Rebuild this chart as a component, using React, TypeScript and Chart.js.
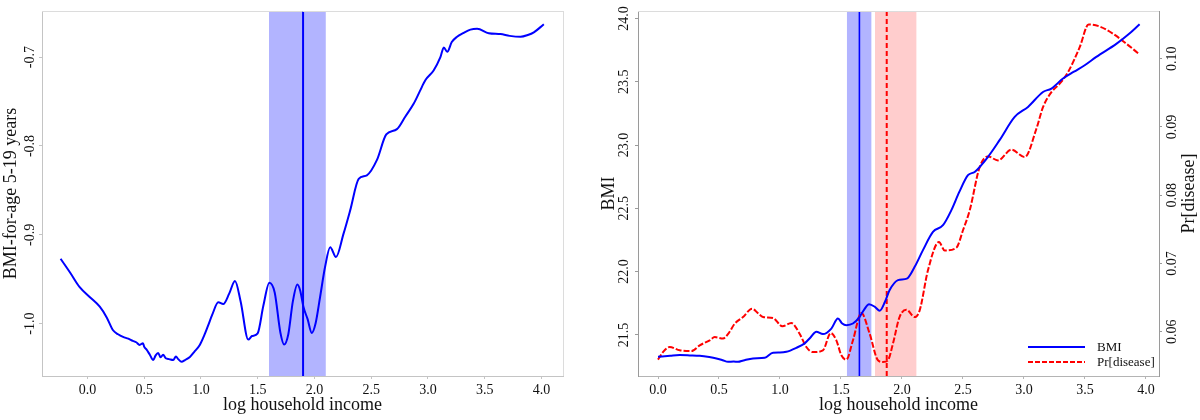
import React, { useEffect, useRef } from 'react';
import { Chart, registerables } from 'chart.js';

Chart.register(...registerables);

const FONT = '"Liberation Serif", "DejaVu Serif", serif';

// ---------- Left panel data ----------
const leftIncome = [
  -0.236, -0.15, -0.068, 0.02, 0.109, 0.17, 0.226, 0.27, 0.314, 0.36, 0.4, 0.43, 0.46, 0.49, 0.5, 0.52,
  0.55, 0.58, 0.6, 0.623, 0.645, 0.667, 0.69, 0.72, 0.756, 0.78, 0.8, 0.83, 0.86, 0.903, 0.94, 0.99,
  1.03, 1.064, 1.1, 1.153, 1.197, 1.25, 1.3, 1.35, 1.417, 1.45, 1.5, 1.55, 1.603, 1.65, 1.7, 1.733,
  1.77, 1.81, 1.85, 1.874, 1.903, 1.94, 1.977, 2.01, 2.05, 2.094, 2.139, 2.19, 2.256, 2.315, 2.39,
  2.462, 2.55, 2.633, 2.727, 2.8, 2.874, 2.93, 2.977, 3.05, 3.11, 3.14, 3.17, 3.21, 3.257, 3.31,
  3.374, 3.433, 3.536, 3.639, 3.72, 3.816, 3.88, 3.933, 4.021,
];
const leftBmiForAge = [
  -0.927, -0.943, -0.959, -0.97, -0.981, -0.993, -1.0075, -1.012, -1.015, -1.017, -1.0195, -1.021,
  -1.024, -1.022, -1.026, -1.029, -1.035, -1.041, -1.036, -1.033, -1.038, -1.035, -1.039, -1.04,
  -1.041, -1.037, -1.04, -1.043, -1.041, -1.0375, -1.032, -1.024, -1.013, -1.002, -0.99, -0.976,
  -0.978, -0.966, -0.952, -0.975, -1.018, -1.014, -1.011, -0.98, -0.954, -0.965, -1.01, -1.0236,
  -1.012, -0.975, -0.956, -0.9625, -0.981, -0.995, -1.0105, -1.0, -0.97, -0.936, -0.914, -0.925,
  -0.899, -0.8725, -0.837, -0.833, -0.816, -0.787, -0.781, -0.767, -0.7525, -0.738, -0.726, -0.715,
  -0.7, -0.689, -0.694, -0.683, -0.677, -0.673, -0.669, -0.668, -0.673, -0.674, -0.676, -0.677,
  -0.675, -0.672, -0.663,
];
const leftBand = [1.6, 2.1];
const leftMarker = 1.9;
const leftXTicks = [0, 0.5, 1.0, 1.5, 2.0, 2.5, 3.0, 3.5, 4.0];
const leftYTicks = [-1.0, -0.9, -0.8, -0.7];
const leftXRange = [-0.4, 4.19];
const leftYRange = [-1.059, -0.648];

// ---------- Right panel data ----------
const bmiIncome = [
  0.0, 0.1, 0.178, 0.26, 0.342, 0.42, 0.479, 0.53, 0.574, 0.62, 0.656, 0.7, 0.779, 0.875, 0.943, 1.0,
  1.052, 1.134, 1.202, 1.25, 1.298, 1.352, 1.421, 1.475, 1.51, 1.544, 1.598, 1.653, 1.69, 1.73, 1.78,
  1.817, 1.86, 1.899, 1.967, 2.04, 2.104, 2.172, 2.254, 2.336, 2.405, 2.47, 2.541, 2.596, 2.705, 2.8,
  2.924, 3.033, 3.156, 3.225, 3.32, 3.41, 3.498, 3.593, 3.757, 3.85, 3.948,
];
const bmiValues = [
  21.327, 21.335, 21.34, 21.338, 21.335, 21.325, 21.314, 21.3, 21.287, 21.29, 21.287, 21.298, 21.314,
  21.319, 21.359, 21.36, 21.366, 21.398, 21.433, 21.48, 21.524, 21.506, 21.55, 21.63, 21.59, 21.577,
  21.59, 21.643, 21.7, 21.743, 21.72, 21.69, 21.76, 21.854, 21.933, 21.945, 22.038, 22.17, 22.314,
  22.367, 22.486, 22.63, 22.762, 22.788, 22.907, 23.039, 23.223, 23.302, 23.42, 23.447, 23.526, 23.58,
  23.631, 23.697, 23.8, 23.87, 23.955,
];
const prIncome = [
  0.0, 0.041, 0.096, 0.178, 0.274, 0.342, 0.424, 0.465, 0.533, 0.58, 0.629, 0.697, 0.771, 0.82, 0.861,
  0.943, 1.02, 1.093, 1.161, 1.216, 1.27, 1.352, 1.416, 1.462, 1.503, 1.544, 1.598, 1.667, 1.735,
  1.803, 1.844, 1.885, 1.926, 1.98, 2.036, 2.104, 2.145, 2.213, 2.303, 2.35, 2.446, 2.5, 2.555, 2.637,
  2.705, 2.787, 2.897, 3.006, 3.102, 3.156, 3.225, 3.293, 3.361, 3.457, 3.53, 3.62, 3.73, 3.84, 3.948,
];
const prValues = [
  0.0559, 0.057, 0.05775, 0.05726, 0.05716, 0.058, 0.05873, 0.0592, 0.059, 0.0598, 0.06117, 0.06214,
  0.06337, 0.0627, 0.06214, 0.062, 0.06078, 0.06126, 0.0597, 0.05775, 0.057, 0.05726, 0.0598, 0.05873,
  0.05653, 0.0559, 0.05873, 0.06273, 0.0597, 0.0558, 0.05555, 0.0558, 0.05824, 0.06214, 0.06322,
  0.06214, 0.06312, 0.069, 0.07313, 0.07191, 0.0723, 0.07486, 0.07777, 0.08412, 0.08568, 0.0851,
  0.08667, 0.08558, 0.08974, 0.09291, 0.0951, 0.09634, 0.09804, 0.1017, 0.10503, 0.10473, 0.10366,
  0.1022, 0.10063,
];
const bmiBand = [1.549, 1.749];
const bmiMarker = 1.651;
const prBand = [1.779, 2.118];
const prMarker = 1.875;
const rightXTicks = [0, 0.5, 1.0, 1.5, 2.0, 2.5, 3.0, 3.5, 4.0];
const bmiTicks = [21.5, 22.0, 22.5, 23.0, 23.5, 24.0];
const prTicks = [0.06, 0.07, 0.08, 0.09, 0.1];
const rightXRange = [-0.164, 4.107];
const bmiRange = [21.175, 24.06];
const prRange = [0.0535, 0.107];

const xTitle = 'log household income';
const leftYTitle = 'BMI-for-age 5-19 years';
const bmiTitle = 'BMI';
const prTitle = 'Pr[disease]';
const legendLabels = ['BMI', 'Pr[disease]'];

const BLUE = '#0000ff';
const RED = '#ff0000';

const toPoints = (xs: number[], ys: number[]) => xs.map((x, i) => ({ x, y: ys[i] }));

// Bands + vertical marker lines plugin
const bandsPlugin = {
  id: 'bands',
  beforeDatasetsDraw(chart: any, _args: any, opts: any) {
    const { ctx, chartArea } = chart;
    const xs = chart.scales.x;
    ctx.save();
    ctx.beginPath();
    ctx.rect(chartArea.left, chartArea.top, chartArea.right - chartArea.left, chartArea.bottom - chartArea.top);
    ctx.clip();
    (opts.bands || []).forEach((b: any) => {
      const a = xs.getPixelForValue(b.from);
      const c = xs.getPixelForValue(b.to);
      ctx.fillStyle = b.color;
      ctx.fillRect(a, chartArea.top, c - a, chartArea.bottom - chartArea.top);
    });
    (opts.lines || []).forEach((l: any) => {
      const p = xs.getPixelForValue(l.x);
      ctx.beginPath();
      ctx.strokeStyle = l.color;
      ctx.lineWidth = l.width;
      ctx.setLineDash(l.dash || []);
      ctx.moveTo(p, chartArea.top);
      ctx.lineTo(p, chartArea.bottom);
      ctx.stroke();
    });
    ctx.restore();
  },
};

const framePlugin = {
  id: 'frame',
  beforeDatasetsDraw(chart: any, _args: any, opts: any) {
    const { ctx, chartArea } = chart;
    ctx.save();
    ctx.strokeStyle = opts.color || '#ddd';
    ctx.lineWidth = 1;
    ctx.beginPath();
    ctx.moveTo(chartArea.left, chartArea.top + 0.5);
    ctx.lineTo(chartArea.right, chartArea.top + 0.5);
    if (opts.right) {
      ctx.moveTo(chartArea.right + 0.5, chartArea.top);
      ctx.lineTo(chartArea.right + 0.5, chartArea.bottom);
    }
    ctx.stroke();
    ctx.restore();
  },
};

const rightExtrasPlugin = {
  id: 'rightExtras',
  afterDraw(chart: any) {
    const { ctx, chartArea } = chart;
    const s = chart.scales.y2;
    ctx.save();
    // right axis title, reading bottom to top
    ctx.translate(s.right - 11, (chartArea.top + chartArea.bottom) / 2);
    ctx.rotate(-Math.PI / 2);
    ctx.font = `18px ${FONT}`;
    ctx.fillStyle = '#111';
    ctx.textAlign = 'center';
    ctx.textBaseline = 'middle';
    ctx.fillText(prTitle, 0, 0);
    ctx.restore();

    // legend
    ctx.save();
    const styles = [
      { color: BLUE, dash: [] as number[] },
      { color: RED, dash: [5, 2] },
    ];
    legendLabels.forEach((label, i) => {
      const y = chartArea.bottom - 29 + i * 15;
      ctx.beginPath();
      ctx.strokeStyle = styles[i].color;
      ctx.lineWidth = 2;
      ctx.setLineDash(styles[i].dash);
      ctx.moveTo(chartArea.right - 131, y);
      ctx.lineTo(chartArea.right - 74, y);
      ctx.stroke();
      ctx.setLineDash([]);
      ctx.font = `13px ${FONT}`;
      ctx.fillStyle = '#111';
      ctx.textAlign = 'left';
      ctx.textBaseline = 'middle';
      ctx.fillText(label, chartArea.right - 62, y + 1);
    });
    ctx.restore();
  },
};

function xScale(range: number[], ticksArr: number[], axisColor: string) {
  return {
    type: 'linear',
    min: range[0],
    max: range[1],
    afterBuildTicks: (s: any) => {
      s.ticks = ticksArr.map((v) => ({ value: v }));
    },
    afterFit: (s: any) => {
      s.height = 44;
    },
    ticks: {
      callback: (v: any) => Number(v).toFixed(1),
      font: { family: FONT, size: 14 },
      color: '#111',
      padding: 3,
      minRotation: 0,
      maxRotation: 0,
    },
    grid: { drawOnChartArea: false, drawTicks: true, tickLength: 3, color: axisColor },
    border: { display: true, color: axisColor, width: 1 },
    title: {
      display: true,
      text: xTitle,
      font: { family: FONT, size: 18 },
      color: '#111',
      padding: { top: 0, bottom: 4 },
    },
  };
}

function yScale(
  range: number[],
  ticksArr: number[],
  digits: number,
  width: number,
  position: string,
  axisColor: string,
  title: string | null,
  titlePad: number,
) {
  return {
    type: 'linear',
    position,
    min: range[0],
    max: range[1],
    afterBuildTicks: (s: any) => {
      s.ticks = ticksArr.map((v) => ({ value: v }));
    },
    afterFit: (s: any) => {
      s.width = width;
    },
    ticks: {
      callback: (v: any) => Number(v).toFixed(digits),
      font: { family: FONT, size: 14 },
      color: '#111',
      padding: -2,
      minRotation: 90,
      maxRotation: 90,
      crossAlign: 'center',
    },
    grid: { drawOnChartArea: false, drawTicks: true, tickLength: 3, color: axisColor },
    border: { display: true, color: axisColor, width: 1 },
    title: {
      display: !!title,
      text: title || '',
      font: { family: FONT, size: 18 },
      color: '#111',
      padding: { top: titlePad, bottom: 0 },
    },
  };
}

function buildLeft(): any {
  return {
    type: 'line',
    data: {
      datasets: [
        {
          label: leftYTitle,
          data: toPoints(leftIncome, leftBmiForAge),
          borderColor: BLUE,
          borderWidth: 2,
          pointRadius: 0,
          cubicInterpolationMode: 'monotone',
          fill: false,
        },
      ],
    },
    options: {
      responsive: false,
      animation: false,
      layout: { padding: { left: 0, right: 37, top: 11, bottom: 0 } },
      scales: {
        x: xScale(leftXRange, leftXTicks, '#c4c4c4'),
        y: yScale(leftYRange, leftYTicks, 1, 42, 'left', '#c4c4c4', leftYTitle, 0),
      },
      plugins: {
        legend: { display: false },
        tooltip: { enabled: false },
        bands: {
          bands: [{ from: leftBand[0], to: leftBand[1], color: 'rgb(178,180,255)' }],
          lines: [{ x: leftMarker, color: BLUE, width: 2 }],
        },
        frame: { color: '#dcdcdc', right: true },
      },
    },
    plugins: [bandsPlugin, framePlugin],
  };
}

function buildRight(): any {
  return {
    type: 'line',
    data: {
      datasets: [
        {
          label: 'BMI',
          data: toPoints(bmiIncome, bmiValues),
          borderColor: BLUE,
          borderWidth: 2,
          pointRadius: 0,
          cubicInterpolationMode: 'monotone',
          fill: false,
          yAxisID: 'y',
        },
        {
          label: 'Pr[disease]',
          data: toPoints(prIncome, prValues),
          borderColor: RED,
          borderWidth: 2,
          borderDash: [6, 2],
          pointRadius: 0,
          cubicInterpolationMode: 'monotone',
          fill: false,
          yAxisID: 'y2',
        },
      ],
    },
    options: {
      responsive: false,
      animation: false,
      layout: { padding: { left: 0, right: 0, top: 11, bottom: 0 } },
      scales: {
        x: xScale(rightXRange, rightXTicks, '#b4b4b4'),
        y: yScale(bmiRange, bmiTicks, 1, 38, 'left', '#9a9a9a', bmiTitle, -2),
        y2: yScale(prRange, prTicks, 2, 41, 'right', '#9a9a9a', null, 0),
      },
      plugins: {
        legend: { display: false },
        tooltip: { enabled: false },
        bands: {
          bands: [
            { from: bmiBand[0], to: bmiBand[1], color: 'rgb(178,180,255)' },
            { from: prBand[0], to: prBand[1], color: 'rgb(255,205,205)' },
          ],
          lines: [
            { x: bmiMarker, color: BLUE, width: 1.6 },
            { x: prMarker, color: RED, width: 2, dash: [5, 3] },
          ],
        },
        frame: { color: '#dcdcdc', right: false },
      },
    },
    plugins: [bandsPlugin, framePlugin, rightExtrasPlugin],
  };
}

function Panel({ build, left }: { build: () => any; left: number }) {
  const ref = useRef<HTMLCanvasElement | null>(null);
  useEffect(() => {
    if (!ref.current) return;
    const chart = new Chart(ref.current, build());
    return () => chart.destroy();
  }, [build]);
  return (
    <canvas
      ref={ref}
      width={600}
      height={420}
      style={{ position: 'absolute', left, top: 0, width: 600, height: 420, display: 'block' }}
    />
  );
}

export default function App() {
  return (
    <div style={{ position: 'fixed', left: 0, top: 0, width: 1200, height: 420, background: '#fff' }}>
      <Panel build={buildLeft} left={0} />
      <Panel build={buildRight} left={600} />
    </div>
  );
}
